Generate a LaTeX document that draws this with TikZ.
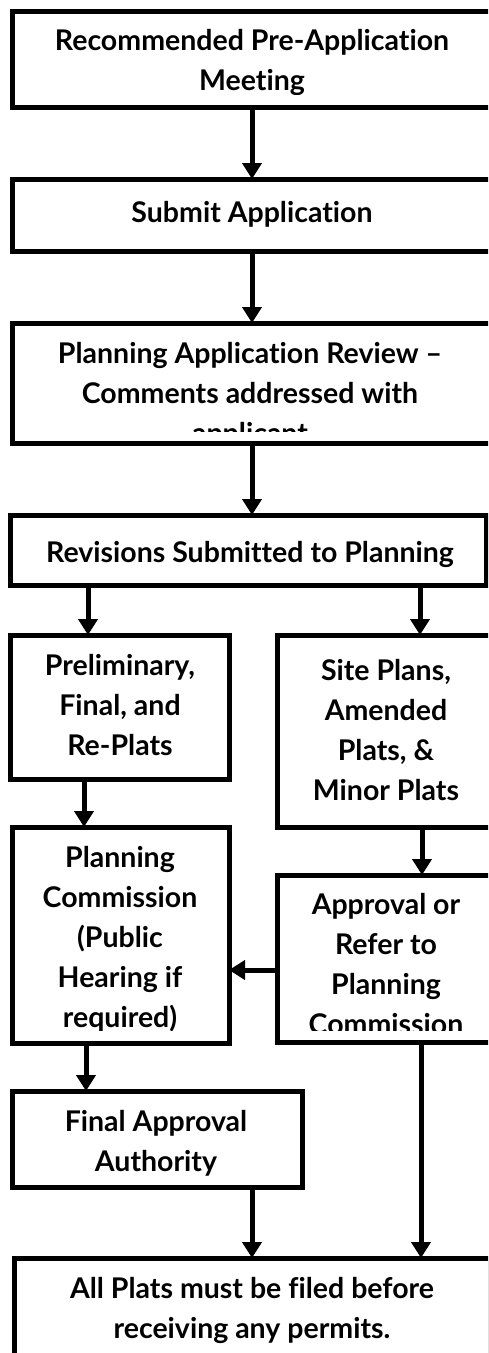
\documentclass[tikz,border=0pt]{standalone}
\usepackage{fontspec}
\setmainfont{Lato}[Ligatures={TeX,NoCommon}]
\usetikzlibrary{arrows.meta}
\tikzset{
  box/.style={draw=black, line width=5pt, rectangle, inner sep=0pt, outer sep=0pt, fill=white},
  txt/.style={font=\bfseries\fontsize{28.5}{40}\selectfont, align=center, inner sep=0pt, anchor=base},
  arr/.style={line width=5pt, -{Triangle[width=19pt,length=16pt]}},
}
\begin{document}
\begin{tikzpicture}[x=1pt,y=-1pt]
\useasboundingbox (0,0) rectangle (488,1353);
\clip (0,0) rectangle (488,1353);
\fill[white] (0,0) rectangle (488,1353);
% boxes (border centre lines)
\node[box, minimum width=480pt, minimum height=96pt] (B1) at (252,59) {};
\node[box, minimum width=480pt, minimum height=72pt] (B2) at (252,215) {};
\node[box, minimum width=480pt, minimum height=120pt] (B3) at (252,383) {};
\node[box, minimum width=476pt, minimum height=70pt] (B4) at (248,550) {};
\node[box, minimum width=219pt, minimum height=144pt] (B5) at (119.5,707) {};
\node[box, minimum width=218pt, minimum height=192pt] (B6) at (386,731) {};
\node[box, minimum width=217pt, minimum height=216pt] (B7) at (120.5,935) {};
\node[box, minimum width=218pt, minimum height=167pt] (B8) at (386,958.5) {};
\node[box, minimum width=290pt, minimum height=96pt] (B9) at (157,1139) {};
\node[box, minimum width=476pt, minimum height=142pt] (B10) at (252,1329) {};
% texts (anchored at the baseline of their last line), clipped inside their boxes
\begin{scope}\clip (B1.north west) rectangle ([yshift=13pt]B1.south east);
\node[txt] (t1) at (252,90) {Recommended Pre-Application\\Meeting};\end{scope}
\begin{scope}\clip (B2.north west) rectangle ([yshift=12pt]B2.south east);
\node[txt] (t2) at (252,222) {Submit Application};\end{scope}
\begin{scope}\clip (B3.north west) rectangle ([yshift=12pt]B3.south east);
\node[txt] (t3) at (250,443) {Planning Application Review –\\Comments addressed with\\applicant};\end{scope}
\begin{scope}\clip (B4.north west) rectangle ([yshift=6pt]B4.south east);
\node[txt] (t4) at (250,562) {Revisions Submitted to Planning};\end{scope}
\begin{scope}\clip (B5.north west) rectangle ([yshift=12pt]B5.south east);
\node[txt] (t5) at (120,755) {Preliminary,\\Final, and\\Re-Plats};\end{scope}
\begin{scope}\clip (B6.north west) rectangle ([yshift=12pt]B6.south east);
\node[txt] (t6) at (386,800) {Site Plans,\\Amended\\Plats, \&\\Minor Plats};\end{scope}
\begin{scope}\clip (B7.north west) rectangle ([yshift=13pt]B7.south east);
\node[txt] (t7) at (120,1027) {Planning\\Commission\\(Public\\Hearing if\\required)};\end{scope}
\begin{scope}\clip (B8.north west) rectangle ([yshift=12pt]B8.south east);
\node[txt] (t8) at (386,1034) {Approval or\\Refer to\\Planning\\Commission};\end{scope}
\begin{scope}\clip (B9.north west) rectangle ([yshift=12pt]B9.south east);
\node[txt] (t9) at (156,1171) {Final Approval\\Authority};\end{scope}
\begin{scope}\clip (B10.north west) rectangle ([yshift=12pt]B10.south east);
\node[txt] (t10) at (252,1338) {All Plats must be filed before\\receiving any permits.};\end{scope}
% connectors
\draw[arr] (B1.south) -- (B2.north);
\draw[arr] (B2.south) -- (B3.north);
\draw[arr] (B3.south) -- (B4.north -| B3.south);
\draw[arr] ([xshift=-31.5pt]B5.north |- B4.south) -- ([xshift=-31.5pt]B5.north);
\draw[arr] ([xshift=34pt]B6.north |- B4.south) -- ([xshift=34pt]B6.north);
\draw[arr] ([xshift=-35.5pt]B5.south) -- ([xshift=-35.5pt]B5.south |- B7.north);
\draw[arr] ([xshift=36pt]B6.south) -- ([xshift=36pt]B8.north);
\draw[arr] ([yshift=-11.5pt]B8.west) -- ([yshift=-11.5pt]B8.west -| B7.east);
\draw[arr] ([xshift=-71pt]B9.north |- B7.south) -- ([xshift=-71pt]B9.north);
\draw[arr] ([xshift=95pt]B9.south) -- ([xshift=95pt]B9.south |- B10.north);
\draw[arr] ([xshift=35pt]B8.south) -- ([xshift=35pt]B8.south |- B10.north);
\end{tikzpicture}
\end{document}
